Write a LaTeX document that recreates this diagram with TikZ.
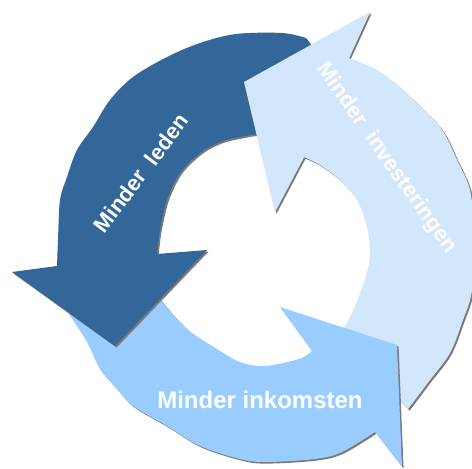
\documentclass[tikz,border=0pt]{standalone}
\usepackage{fontspec}
\setmainfont{Liberation Sans}
\definecolor{darkarrow}{HTML}{336699}
\definecolor{palearrow}{HTML}{D2E6FC}
\definecolor{midarrow}{HTML}{99CCFF}
\definecolor{shadowgrey}{HTML}{7A7A7A}
\begin{document}
\begin{tikzpicture}[x=1pt,y=-1pt,
  shadowcopy/.style={fill=shadowgrey,shift={(1.6,1.6)}},
  lbl/.style={text=white,inner sep=0pt,font=\bfseries\fontsize{22}{26}\selectfont,
              text height=15.8pt,text depth=0pt}]
\useasboundingbox (0,0) rectangle (472,469);

% right arrow: rises along the right side, head at the top
\def\paleshape{(370,12) -- (349,58)
  -- plot[smooth,tension=0.55] coordinates {(349,58) (377,70) (403,90) (440,127) (457,160)
     (470,190) (474,230) (474,265) (471,296) (463,320) (450,353) (430,380) (408,409)}
  -- (335,336)
  -- plot[smooth,tension=0.55] coordinates {(335,336) (345,326) (355,306) (365,279)
     (370,255) (367,227) (357,200) (340,180) (320,165) (304,157)}
  -- (275,212) -- (244,82) -- cycle}
% bottom arrow: runs from the left round to the lower right
\def\bottomshape{(50,290)
  -- plot[smooth,tension=0.55] coordinates {(67,311) (87,342) (100,369) (117,389) (133,406)
     (167,426) (200,446) (240,459) (265,462) (315,459) (342,452) (375,432)}
  -- (402,467) -- (397,345) -- (280,307) -- (312,351)
  -- plot[smooth,tension=0.55] coordinates {(312,351) (299,359) (265,366) (240,362)
     (217,349) (187,329) (160,299) (150,280)}
  -- cycle}
% dark arrow: from the top round to the left, head pointing down
\def\darkshape{(285,135) -- (311,45)
  -- plot[smooth,tension=0.55] coordinates {(306,38) (282,33) (236,34) (200,43) (167,57)
     (133,77) (110,100) (93,127) (77,150) (67,177) (60,200) (58,240) (57,266)}
  -- (12,272) -- (115,346) -- (207,250) -- (157,254)
  -- plot[smooth,tension=0.55] coordinates {(157,254) (160,230) (167,200) (180,173)
     (200,153) (220,142) (240,137) (260,134) (285,135)}
  -- cycle}
% head of the right arrow, laid over the tail of the dark one
\def\paleheadshape{(370,12) -- (349,58) -- (304,157) -- (275,212) -- (244,82) -- cycle}

\fill[shadowcopy] \paleshape;
\fill[palearrow] \paleshape;
\fill[shadowcopy] \bottomshape;
\fill[midarrow] \bottomshape;
\fill[shadowcopy] \darkshape;
\fill[darkarrow] \darkshape;
\fill[palearrow] \paleheadshape;

\node[lbl,rotate=53] (leden) at (141,173) {Minder\hspace*{0.56em}leden};
\node[lbl,rotate=-55] (invest) at (388,157) {Minder\hspace*{0.56em}investeringen};
\node[lbl,font=\bfseries\fontsize{24}{28}\selectfont,anchor=base] (inkomsten) at (260,408.3) {Minder inkomsten};
\end{tikzpicture}
\end{document}
